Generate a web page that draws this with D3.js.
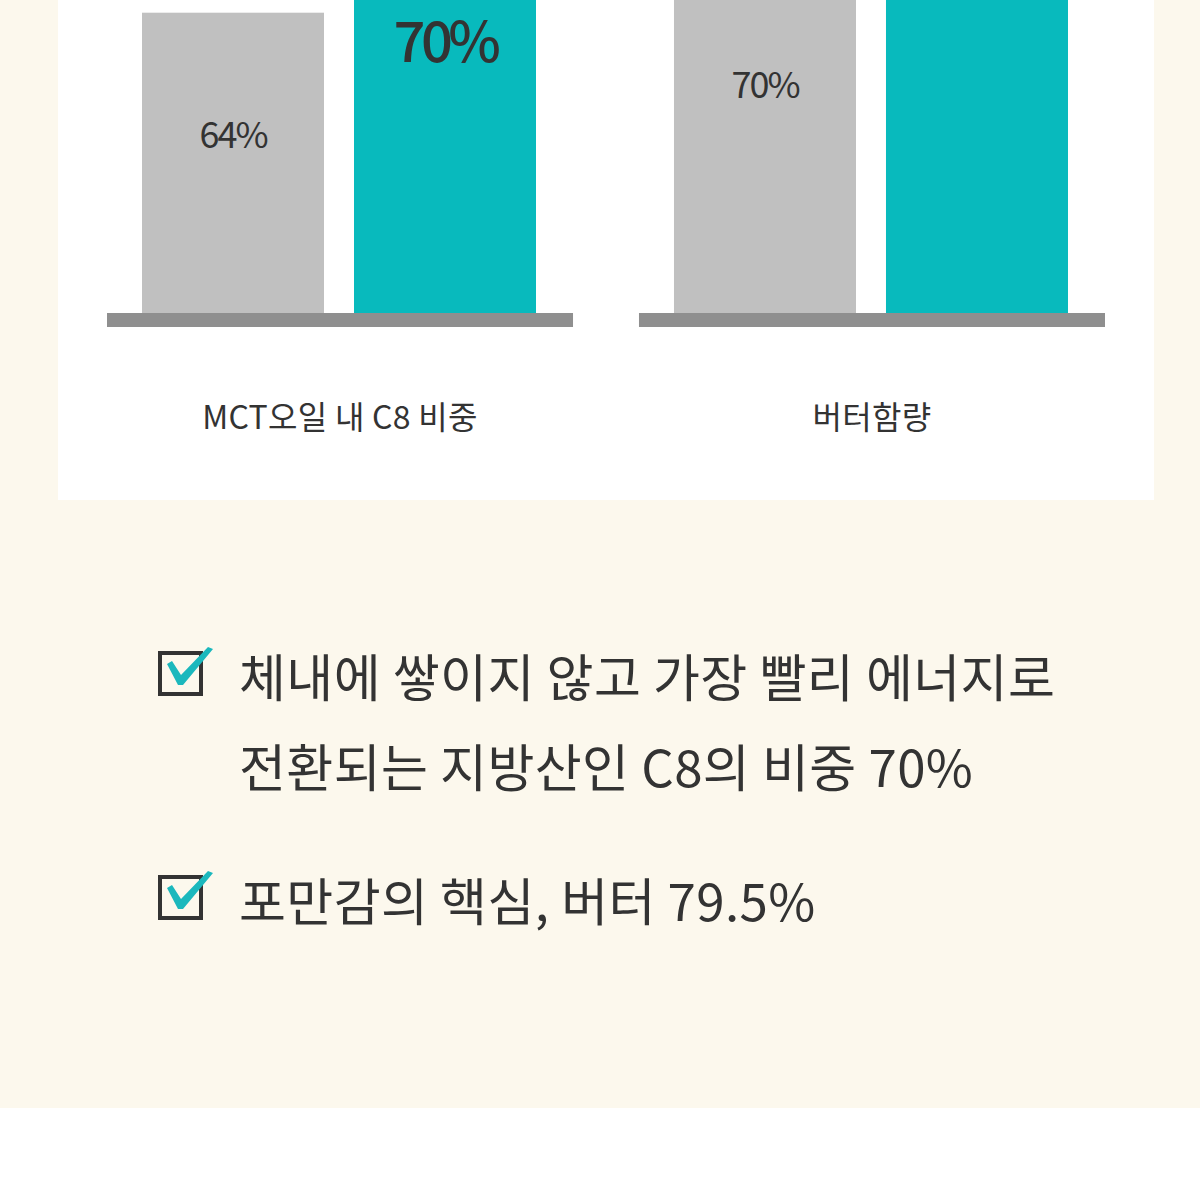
<!DOCTYPE html>
<html>
<head>
<meta charset="utf-8">
<script src="https://cdn.jsdelivr.net/npm/d3@7"></script>
<style>
  html, body { margin: 0; padding: 0; background: #ffffff; }
  svg { display: block; }
</style>
</head>
<body>
<div id="chart"></div>
<script>
// ---- data ----
const categories = ["MCT오일 내 C8 비중", "버터함량"];
const series = ["일반", "제품"];
const grayValues = [64, 70];
const tealValues = [70, 79.5];
const valueLabels = [["64%", "70%"], ["70%", "79.5%"]];
const bulletLines = [
  ["체내에 쌓이지 않고 가장 빨리 에너지로", "전환되는 지방산인 C8의 비중 70%"],
  ["포만감의 핵심, 버터 79.5%"]
];

const W = 1200, H = 1200;
const FONT = "'Noto Sans CJK KR', 'Noto Sans', sans-serif";
const svg = d3.select("#chart").append("svg").attr("width", W).attr("height", H);

// backgrounds
svg.append("rect").attr("x", 0).attr("y", 0).attr("width", W).attr("height", 1108).attr("fill", "#fcf8ed");
svg.append("rect").attr("x", 0).attr("y", 1108).attr("width", W).attr("height", H - 1108).attr("fill", "#ffffff");
svg.append("rect").attr("x", 58).attr("y", -10).attr("width", 1096).attr("height", 510).attr("fill", "#ffffff");

// scales
const x0 = d3.scaleBand().domain(categories).range([107, 1105]).paddingInner(0.124).paddingOuter(0);
const x1 = d3.scaleBand().domain(series).range([35, 429]).paddingInner(0.1415).paddingOuter(0);
const y = d3.scaleLinear().domain([28, 64]).range([313, 12.7]);
const colors = { "일반": "#c0c0c0", "제품": "#08babd" };

const rows = categories.map((c, i) => ({
  cat: c,
  bars: [
    { s: series[0], v: grayValues[i], label: valueLabels[i][0] },
    { s: series[1], v: tealValues[i], label: valueLabels[i][1] }
  ]
}));

const g = svg.selectAll("g.grp").data(rows).enter().append("g")
  .attr("class", "grp")
  .attr("transform", d => `translate(${x0(d.cat)},0)`);

g.selectAll("rect.bar").data(d => d.bars).enter().append("rect")
  .attr("class", "bar")
  .attr("x", d => x1(d.s))
  .attr("width", x1.bandwidth())
  .attr("y", d => y(d.v))
  .attr("height", d => y(y.domain()[0]) - y(d.v))
  .attr("fill", d => colors[d.s]);

// baseline
g.append("rect")
  .attr("x", 0).attr("width", x0.bandwidth())
  .attr("y", y(y.domain()[0])).attr("height", 14)
  .attr("fill", "#8f8f8f");

// value labels
g.selectAll("text.val").data(d => d.bars).enter().append("text")
  .attr("class", "val")
  .attr("x", d => x1(d.s) + x1.bandwidth() / 2)
  .attr("y", d => d.s === series[0] ? y(d.v) + 135 : y(d.v) + 99)
  .attr("text-anchor", "middle")
  .attr("font-family", FONT)
  .attr("font-size", d => d.s === series[0] ? 36 : 56)
  .attr("font-weight", d => d.s === series[0] ? 400 : 500)
  .attr("letter-spacing", d => d.s === series[0] ? -2 : -4.5)
  .attr("fill", "#333333")
  .text(d => d.label);

// category labels
g.append("text")
  .attr("x", x0.bandwidth() / 2)
  .attr("y", 429)
  .attr("text-anchor", "middle")
  .attr("font-family", FONT)
  .attr("font-size", 32)
  .attr("letter-spacing", 0.3)
  .attr("fill", "#333333")
  .text(d => d.cat);

// bullets
const bulletTop = [651, 875];
const lineGap = 90;
bulletLines.forEach((lines, i) => {
  const top = bulletTop[i];
  const b = svg.append("g").attr("transform", `translate(158,${top})`);
  b.append("rect").attr("x", 2).attr("y", 2).attr("width", 41).attr("height", 41)
    .attr("fill", "none").attr("stroke", "#333333").attr("stroke-width", 4);
  b.append("path")
    .attr("d", "M9,13 L14,10 L23,24 L50,-4 L55,-2 L25,34 L20,34 Z")
    .attr("fill", "#1bb8bd");
  lines.forEach((t, j) => {
    svg.append("text")
      .attr("x", 239)
      .attr("y", top + 24 + j * lineGap)
      .attr("dominant-baseline", "central")
      .attr("font-family", FONT)
      .attr("font-size", 51)
      .attr("letter-spacing", 0.4)
      .attr("fill", "#333333")
      .text(t);
  });
});
</script>
</body>
</html>
